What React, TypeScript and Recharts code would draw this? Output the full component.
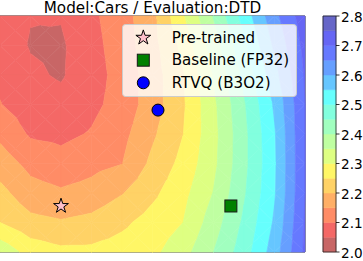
import React from 'react';
import { ScatterChart, Scatter, XAxis, YAxis, ReferenceArea, Legend } from 'recharts';

const FONT = '"DejaVu Sans", Verdana, sans-serif';

// ---- loss surface grid (rows top -> bottom, columns left -> right) ----
const lossRow0 = [2.070, 2.052, 2.053, 2.090, 2.128, 2.187, 2.294, 2.403, 2.520, 2.635, 2.730];
const lossRow1 = [2.075, 2.047, 2.043, 2.084, 2.124, 2.182, 2.264, 2.374, 2.489, 2.609, 2.715];
const lossRow2 = [2.090, 2.058, 2.045, 2.080, 2.118, 2.176, 2.245, 2.353, 2.462, 2.582, 2.705];
const lossRow3 = [2.102, 2.075, 2.065, 2.088, 2.119, 2.176, 2.243, 2.339, 2.444, 2.557, 2.700];
const lossRow4 = [2.138, 2.094, 2.088, 2.104, 2.135, 2.192, 2.249, 2.334, 2.436, 2.545, 2.700];
const lossRow5 = [2.176, 2.135, 2.118, 2.135, 2.149, 2.212, 2.265, 2.338, 2.436, 2.542, 2.700];
const lossRow6 = [2.215, 2.170, 2.157, 2.168, 2.197, 2.239, 2.285, 2.352, 2.444, 2.545, 2.700];
const lossRow7 = [2.250, 2.215, 2.205, 2.215, 2.240, 2.270, 2.300, 2.376, 2.459, 2.557, 2.705];
const lossRow8 = [2.335, 2.280, 2.262, 2.262, 2.272, 2.288, 2.331, 2.400, 2.476, 2.575, 2.710];
const LOSS_GRID = [lossRow0, lossRow1, lossRow2, lossRow3, lossRow4, lossRow5, lossRow6, lossRow7, lossRow8];

const LEVELS = [2.0, 2.05, 2.1, 2.15, 2.2, 2.25, 2.3, 2.35, 2.4, 2.45, 2.5, 2.55, 2.6, 2.65, 2.7, 2.75, 2.8];
const BAND_COLORS = [
  '#c86666', '#f46866', '#ff8c66', '#ffaf66', '#ffd266', '#fff666', '#deff82', '#bfffa1',
  '#a1ffbf', '#82ffde', '#66fffd', '#66c6ff', '#669fff', '#6679ff', '#6666f4', '#6666c8',
];
const CBAR_TICKS = [2.0, 2.1, 2.2, 2.3, 2.4, 2.5, 2.6, 2.7, 2.8];

const TITLE = 'Model:Cars / Evaluation:DTD';
const SERIES_NAMES = ['Pre-trained', 'Baseline (FP32)', 'RTVQ (B3O2)'];
const pretrainedPoint = [{ x: 2.0, y: 1.56 }];
const baselinePoint = [{ x: 7.57, y: 1.56 }];
const rtvqPoint = [{ x: 5.18, y: 4.81 }];

// ---- layout ----
const CHART_W = 363;
const CHART_H = 261;
const MARGIN = { top: 16, right: 0, bottom: 9, left: 0 };
const CBAR_AXIS_W = 58;
const PLOT_W = CHART_W - MARGIN.left - MARGIN.right - CBAR_AXIS_W;
const PLOT_H = CHART_H - MARGIN.top - MARGIN.bottom;
const N_COLS = lossRow0.length;
const N_ROWS = LOSS_GRID.length;
const X_MAX = N_COLS - 1;
const Y_MAX = N_ROWS - 1;
const CELL_W = PLOT_W / X_MAX;
const CELL_H = PLOT_H / Y_MAX;
const CB_GAP = 18;
const CB_WIDTH = 13;
const CB_X1 = (X_MAX * (PLOT_W + CB_GAP)) / PLOT_W;
const CB_X2 = (X_MAX * (PLOT_W + CB_GAP + CB_WIDTH)) / PLOT_W;

const LEG_LEFT = 122;
const LEG_TOP = 24;
const LEG_W = 175;
const LEG_H = 73;
const LEG_MARK_X = 21.3;
const LEG_TEXT_X = 49.7;
const LEG_ROW_Y = [13.7, 36.2, 58.8];

const contourCells: any[] = [];
for (let j = 0; j < N_ROWS - 1; j++) {
  for (let i = 0; i < N_COLS - 1; i++) {
    contourCells.push({
      x: i + 0.5,
      y: Y_MAX - j - 0.5,
      tl: LOSS_GRID[j][i],
      tr: LOSS_GRID[j][i + 1],
      bl: LOSS_GRID[j + 1][i],
      br: LOSS_GRID[j + 1][i + 1],
    });
  }
}

type P = [number, number, number];
function clip(poly: P[], lv: number, keepAbove: boolean): P[] {
  const out: P[] = [];
  const n = poly.length;
  for (let k = 0; k < n; k++) {
    const a = poly[k];
    const b = poly[(k + 1) % n];
    const ain = keepAbove ? a[2] >= lv : a[2] <= lv;
    const bin = keepAbove ? b[2] >= lv : b[2] <= lv;
    if (ain) out.push(a);
    if (ain !== bin) {
      const t = (lv - a[2]) / (b[2] - a[2]);
      out.push([a[0] + t * (b[0] - a[0]), a[1] + t * (b[1] - a[1]), lv]);
    }
  }
  return out;
}

const ContourCell = (props: any) => {
  const { cx, cy, payload } = props;
  if (cx == null || cy == null || !payload) return <g />;
  const { tl, tr, bl, br } = payload;
  const l = cx - CELL_W / 2;
  const r = cx + CELL_W / 2;
  const t = cy - CELL_H / 2;
  const b = cy + CELL_H / 2;
  const C: P = [cx, cy, (tl + tr + bl + br) / 4];
  const TL: P = [l, t, tl];
  const TR: P = [r, t, tr];
  const BR: P = [r, b, br];
  const BL: P = [l, b, bl];
  const tris: P[][] = [[TL, TR, C], [TR, BR, C], [BR, BL, C], [BL, TL, C]];
  const els: any[] = [];
  tris.forEach((tri, ti) => {
    for (let k = 0; k < BAND_COLORS.length; k++) {
      let poly = tri;
      if (k > 0) poly = clip(poly, LEVELS[k], true);
      if (poly.length < 3) continue;
      if (k < BAND_COLORS.length - 1) poly = clip(poly, LEVELS[k + 1], false);
      if (poly.length < 3) continue;
      const pts = poly.map((p) => `${p[0].toFixed(2)},${p[1].toFixed(2)}`).join(' ');
      els.push(
        <polygon key={`${ti}-${k}`} points={pts} fill={BAND_COLORS[k]} stroke={BAND_COLORS[k]} strokeWidth={0.6} strokeLinejoin="round" />
      );
    }
  });
  return <g>{els}</g>;
};

function starPoints(cx: number, cy: number, R: number) {
  const pts: string[] = [];
  for (let k = 0; k < 10; k++) {
    const ang = (-90 + k * 36) * (Math.PI / 180);
    const rad = k % 2 === 0 ? R : R * 0.381966;
    pts.push(`${(cx + rad * Math.cos(ang)).toFixed(2)},${(cy + rad * Math.sin(ang)).toFixed(2)}`);
  }
  return pts.join(' ');
}

const markerFor = (k: number, cx: number, cy: number) => {
  if (k === 0) return <polygon points={starPoints(cx, cy, 7.8)} fill="#ffc0cb" stroke="#000" strokeWidth={1} strokeLinejoin="miter" />;
  if (k === 1) return <rect x={cx - 6} y={cy - 6} width={12} height={12} fill="#008000" stroke="#1a1a1a" strokeWidth={1} />;
  return <circle cx={cx} cy={cy} r={6} fill="#0000ff" stroke="#000" strokeWidth={1} />;
};

const makeMarkerShape = (k: number) => (props: any) => {
  const { cx, cy } = props;
  if (cx == null || cy == null) return <g />;
  return markerFor(k, cx, cy);
};

const CbarTick = (props: any) => {
  const { x, y, payload } = props;
  const lx = x + CB_GAP + CB_WIDTH;
  return (
    <g>
      <line x1={lx} x2={lx + 3.5} y1={y} y2={y} stroke="#000" strokeWidth={0.8} />
      <text x={lx + 5.0} y={y + 5.9} fontSize={13.6} fontFamily={FONT} fill="#000">
        {Number(payload.value).toFixed(1)}
      </text>
    </g>
  );
};

const LegendBox = () => (
  <svg width={LEG_W} height={LEG_H} style={{ display: 'block', overflow: 'visible' }}>
    <rect x={0.5} y={0.5} width={LEG_W - 1} height={LEG_H - 1} rx={3} ry={3} fill="#fff" fillOpacity={0.8} stroke="#cccccc" strokeWidth={1} />
    {SERIES_NAMES.map((name, k) => (
      <g key={name}>
        {markerFor(k, LEG_MARK_X, LEG_ROW_Y[k])}
        <text x={LEG_TEXT_X} y={LEG_ROW_Y[k] + 5.0} fontSize={15.1} fontFamily={FONT} fill="#000">
          {name}
        </text>
      </g>
    ))}
  </svg>
);

export default function App() {
  return (
    <div style={{ position: 'absolute', left: 0, top: 0, width: CHART_W, height: CHART_H, fontFamily: FONT }}>
      <ScatterChart width={CHART_W} height={CHART_H} margin={MARGIN}>
        <XAxis xAxisId="main" type="number" dataKey="x" domain={[0, X_MAX]} hide />
        <YAxis yAxisId="main" type="number" dataKey="y" domain={[0, Y_MAX]} hide />
        <YAxis
          yAxisId="cb"
          orientation="right"
          type="number"
          domain={[2.0, 2.8]}
          ticks={CBAR_TICKS}
          interval={0}
          width={CBAR_AXIS_W}
          tickSize={0}
          tickMargin={0}
          tickLine={false}
          axisLine={false}
          allowDataOverflow
          tick={(p: any) => <CbarTick {...p} />}
        />
        <Scatter xAxisId="main" yAxisId="main" data={contourCells} shape={ContourCell} isAnimationActive={false} legendType="none" />
        {BAND_COLORS.map((c, k) => (
          <ReferenceArea
            key={`cb-${k}`}
            xAxisId="main"
            yAxisId="cb"
            x1={CB_X1}
            x2={CB_X2}
            y1={LEVELS[k]}
            y2={LEVELS[k + 1]}
            fill={c}
            fillOpacity={1}
            stroke={c}
            strokeWidth={0.5}
            ifOverflow="visible"
          />
        ))}
        <ReferenceArea xAxisId="main" yAxisId="cb" x1={CB_X1} x2={CB_X2} y1={2.0} y2={2.8} fill="none" fillOpacity={0} stroke="#222" strokeWidth={0.8} ifOverflow="visible" />
        <ReferenceArea xAxisId="main" yAxisId="main" x1={0} x2={X_MAX} y1={0} y2={Y_MAX} fill="none" fillOpacity={0} stroke="#222" strokeWidth={1} ifOverflow="visible" />
        <Scatter name={SERIES_NAMES[0]} xAxisId="main" yAxisId="main" data={pretrainedPoint} shape={makeMarkerShape(0)} isAnimationActive={false} />
        <Scatter name={SERIES_NAMES[1]} xAxisId="main" yAxisId="main" data={baselinePoint} shape={makeMarkerShape(1)} isAnimationActive={false} />
        <Scatter name={SERIES_NAMES[2]} xAxisId="main" yAxisId="main" data={rtvqPoint} shape={makeMarkerShape(2)} isAnimationActive={false} />
        <Legend
          layout="vertical"
          align="center"
          verticalAlign="middle"
          wrapperStyle={{ position: 'absolute', left: LEG_LEFT, top: LEG_TOP, width: LEG_W, height: LEG_H, margin: 0, padding: 0, lineHeight: 0 }}
          content={() => <LegendBox />}
        />
      </ScatterChart>
      <svg width={CHART_W} height={20} style={{ position: 'absolute', left: 0, top: 0, pointerEvents: 'none' }}>
        <text x={PLOT_W / 2} y={12.8} textAnchor="middle" fontSize={15.2} fontFamily={FONT} fill="#000">
          {TITLE}
        </text>
      </svg>
    </div>
  );
}
